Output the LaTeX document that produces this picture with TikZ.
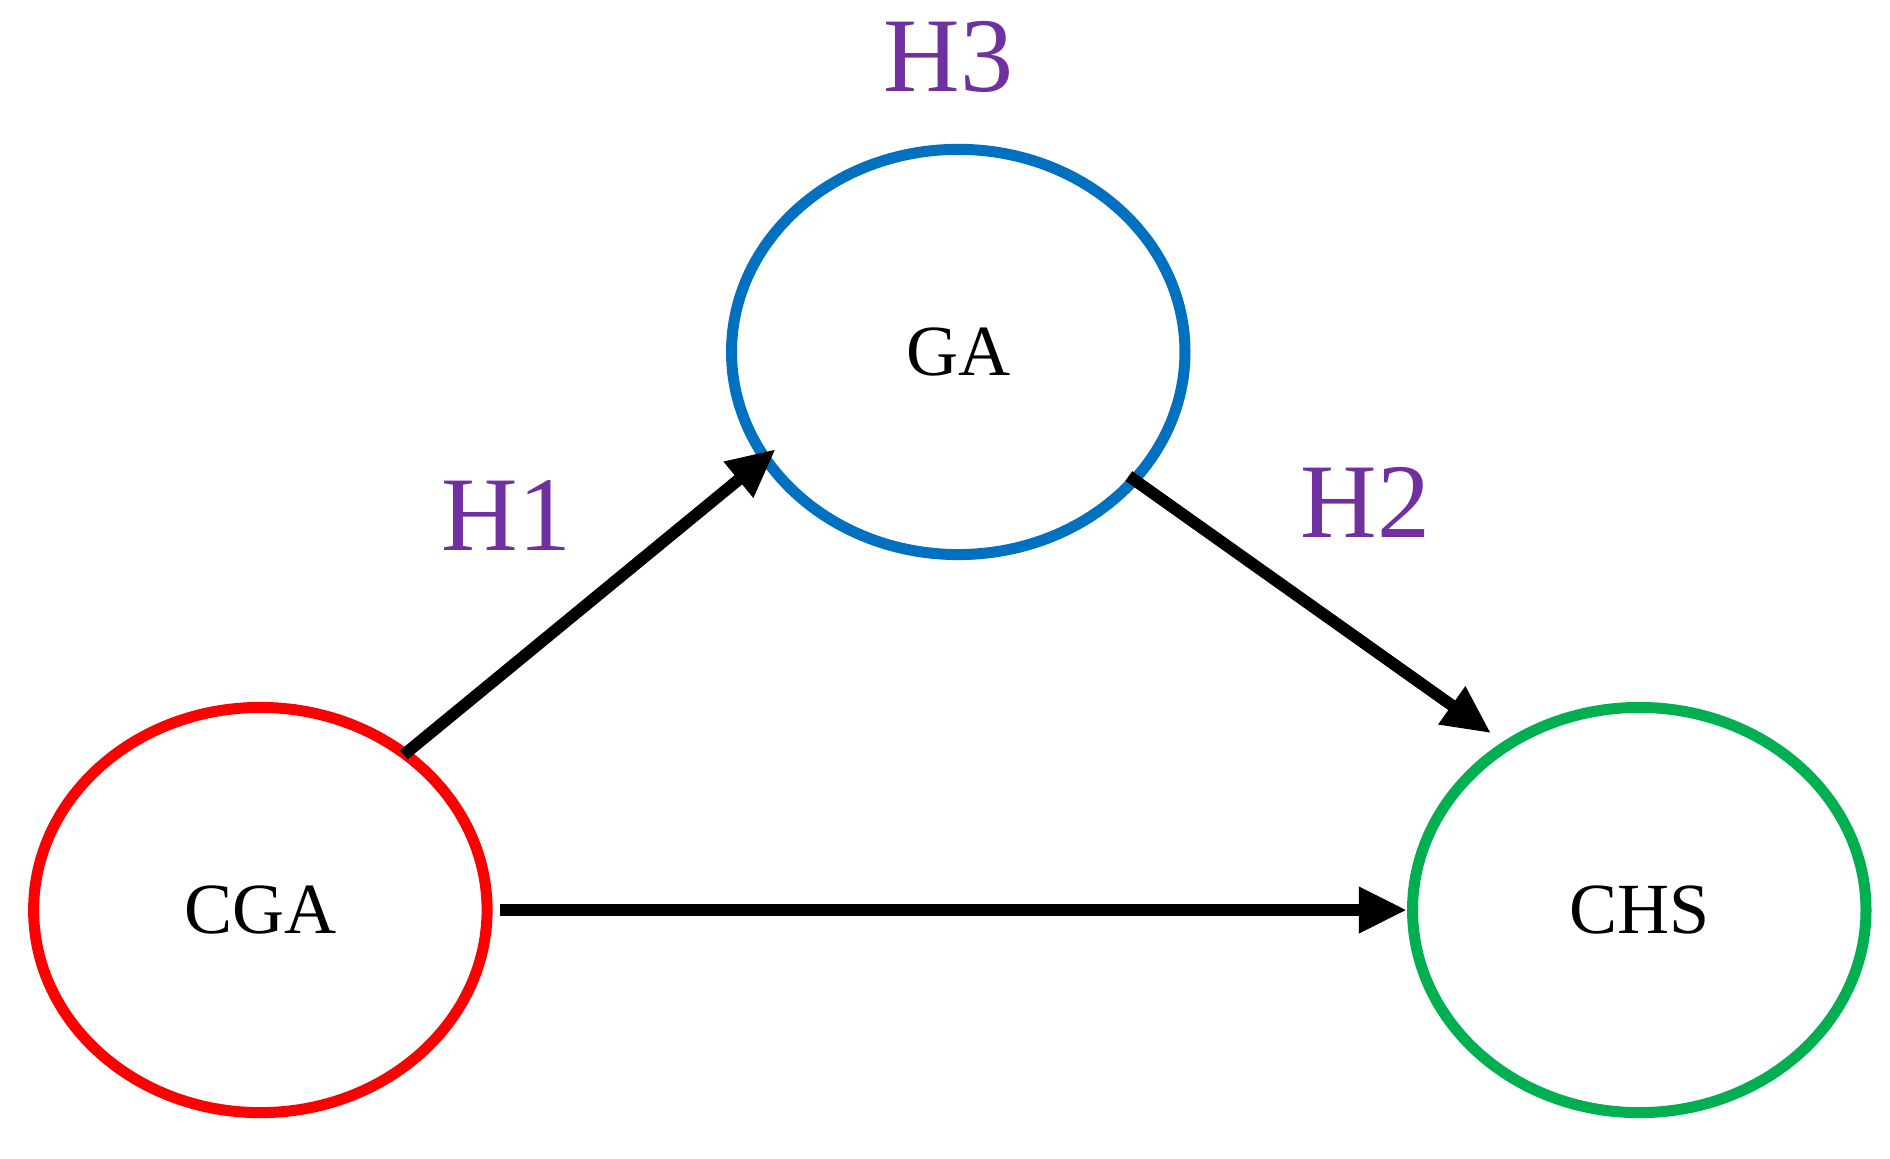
\documentclass[tikz,border=0pt]{standalone}
\usetikzlibrary{shapes.geometric,arrows.meta}
\usepackage{fontspec}
\setmainfont{Liberation Serif}
\definecolor{hpurple}{RGB}{112,48,160}
\definecolor{cred}{RGB}{255,0,0}
\definecolor{cblue}{RGB}{0,112,192}
\definecolor{cgreen}{RGB}{0,176,80}
\begin{document}
\begin{tikzpicture}[x=0.01cm,y=-0.01cm,
  ell/.style={ellipse,draw,line width=2.6pt,minimum width=3.76cm,minimum height=3.36cm,inner sep=0pt,font=\fontsize{17}{20}\selectfont},
  hyp/.style={text=hpurple,font=\fontsize{25}{30}\selectfont},
  arr/.style={line width=2.8pt,-{Triangle[length=0.4cm,width=0.36cm]}}]
\useasboundingbox (0,0) rectangle (1568,961);
\node[ell,draw=cred] (cga) at (216,755) {CGA};
\node[ell,draw=cblue] (ga) at (795,292) {GA};
\node[ell,draw=cgreen] (chs) at (1360,755) {CHS};
\node[hyp] (h3) at (787,47) {H3};
\node[hyp] (h1) at (420,428) {H1};
\node[hyp] (h2) at (1133,417) {H2};
\draw[arr,shorten <=-0.06cm,shorten >=-0.16cm] (cga.47) -- (ga.209);
\draw[arr,shorten <=-0.1cm,shorten >=0.12cm] (ga.-36) -- (chs.129);
\draw[arr,shorten <=0.06cm] (cga) -- (chs);
\end{tikzpicture}
\end{document}
